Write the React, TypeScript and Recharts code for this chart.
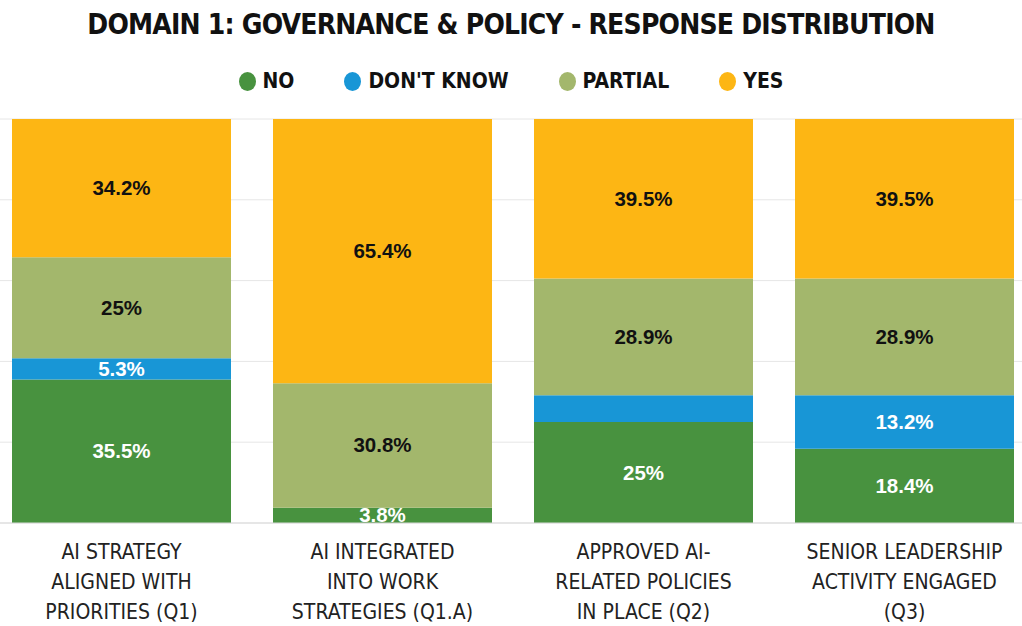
import React from 'react';
import { BarChart, Bar, XAxis, YAxis, CartesianGrid, LabelList } from 'recharts';

const categories = ['Q1', 'Q1.A', 'Q2', 'Q3'];
const tickLines = [
  ['AI STRATEGY', 'ALIGNED WITH', 'PRIORITIES (Q1)'],
  ['AI INTEGRATED', 'INTO WORK', 'STRATEGIES (Q1.A)'],
  ['APPROVED AI-', 'RELATED POLICIES', 'IN PLACE (Q2)'],
  ['SENIOR LEADERSHIP', 'ACTIVITY ENGAGED', '(Q3)'],
];
const noValues = [35.5, 3.8, 25, 18.4];
const dontKnowValues = [5.3, 0, 6.6, 13.2];
const partialValues = [25, 30.8, 28.9, 28.9];
const yesValues = [34.2, 65.4, 39.5, 39.5];
// the source chart leaves some labels off
const dontKnowShown = [true, false, false, true];

const series = [
  { key: 'no', name: 'NO', color: '#48923f', text: '#ffffff' },
  { key: 'dk', name: "DON'T KNOW", color: '#1896d6', text: '#ffffff' },
  { key: 'partial', name: 'PARTIAL', color: '#a3b76c', text: '#111111' },
  { key: 'yes', name: 'YES', color: '#fdb614', text: '#111111' },
];

const data = categories.map((c, i) => ({
  cat: c,
  no: noValues[i],
  dk: dontKnowValues[i],
  partial: partialValues[i],
  yes: yesValues[i],
  noLabel: `${noValues[i]}%`,
  dkLabel: dontKnowShown[i] ? `${dontKnowValues[i]}%` : '',
  partialLabel: `${partialValues[i]}%`,
  yesLabel: `${yesValues[i]}%`,
}));

const condensed = '"DejaVu Sans", sans-serif';

const CatTick = (props: any) => {
  const { x, y, payload } = props;
  const lines = tickLines[payload.index] || [];
  return (
    <g>
      {lines.map((l, i) => (
        <text key={i} x={x} y={y + 28 + i * 30} textAnchor="middle" fill="#222" fontFamily={condensed} fontStretch="condensed" fontSize={21}>
          {l}
        </text>
      ))}
    </g>
  );
};

const makeLabel = (s: any) => (props: any) => {
  const { x, y, width, height, value } = props;
  if (!value) return null;
  return (
    <text x={x + width / 2} y={y + height / 2 + 7} textAnchor="middle" fill={s.text} fontFamily='"Liberation Sans", Arial, sans-serif' fontWeight="bold" fontSize={20.5}>
      {value}
    </text>
  );
};

export default function App() {
  return (
    <div style={{ position: 'absolute', left: 0, top: 0, width: 1022, height: 626, overflow: 'hidden', background: '#fff' }}>
      <div style={{ position: 'absolute', top: 8, left: 0, width: 1022, textAlign: 'center', fontFamily: condensed, fontStretch: 'condensed', fontWeight: 'bold', fontSize: 28, letterSpacing: -0.8, color: '#111' }}>
        DOMAIN 1: GOVERNANCE &amp; POLICY - RESPONSE DISTRIBUTION
      </div>
      <div style={{ position: 'absolute', top: 69, left: 0, width: 1022, display: 'flex', justifyContent: 'center', gap: 50, fontFamily: condensed, fontStretch: 'condensed', fontWeight: 'bold', fontSize: 21, color: '#111' }}>
        {series.map((s) => (
          <div key={s.key} style={{ display: 'flex', alignItems: 'center', gap: 7 }}>
            <span style={{ width: 17, height: 19, borderRadius: '50%', background: s.color, display: 'inline-block' }} />
            <span>{s.name}</span>
          </div>
        ))}
      </div>
      <BarChart width={1022} height={626} data={data} margin={{ top: 119, right: -13, bottom: 0, left: -9 }} barCategoryGap={21}>
        <CartesianGrid vertical={false} stroke="#e6e6e6" />
        <XAxis dataKey="cat" height={103} tick={<CatTick />} tickLine={false} axisLine={{ stroke: '#d9d9d9' }} interval={0} />
        <YAxis hide domain={[0, 100]} ticks={[0, 20, 40, 60, 80, 100]} width={0} />
        {series.map((s) => (
          <Bar key={s.key} dataKey={s.key} name={s.name} stackId="a" fill={s.color} isAnimationActive={false}>
            <LabelList dataKey={`${s.key}Label`} content={makeLabel(s)} />
          </Bar>
        ))}
      </BarChart>
    </div>
  );
}
